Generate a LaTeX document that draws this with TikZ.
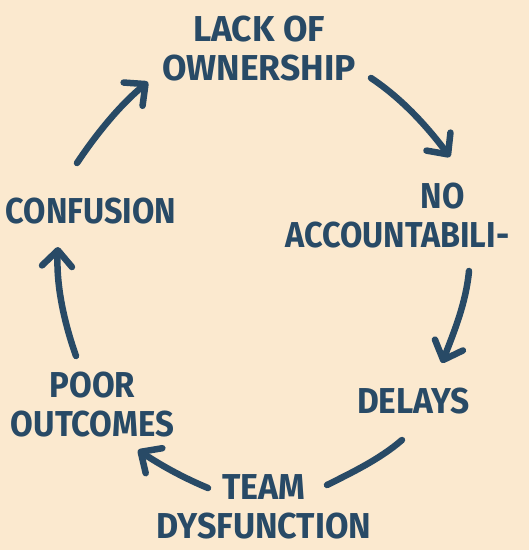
\documentclass[tikz,border=0pt]{standalone}
\usepackage{fontspec}
\setmainfont{Fira Sans}[UprightFont=* Bold]
\usetikzlibrary{arrows.meta}
\definecolor{bgc}{HTML}{FBE9CF}
\definecolor{ink}{HTML}{284A66}
\tikzset{
  lbl/.style={text=ink, inner sep=0pt, align=center, font=\fontsize{36}{39}\selectfont\addfontfeatures{FakeStretch=#1}},
  cyc/.style={draw=ink, line width=6.5pt, line cap=round, line join=round},
  cycarrow/.style={cyc, -{Straight Barb[length=16pt, width=30pt, line width=6.5pt, line cap=round, line join=round]}}
}
\begin{document}
\begin{tikzpicture}[x=1pt, y=-1pt]
\fill[bgc] (0,0) rectangle (529,550);
\useasboundingbox (0,0) rectangle (529,550);
\node[lbl=0.985] (lack) at (259,49) {LACK OF\\OWNERSHIP};
\node[lbl=0.90] (noacc) at (397.5,215.5) {\hspace*{90pt}NO\\ACCOUNTABILI-};
\node[lbl=0.93] (delays) at (413.5,401) {DELAYS};
\node[lbl=0.945] (team) at (264,506.5) {TEAM\\DYSFUNCTION};
\node[lbl=0.915] (poor) at (92.5,404.5) {POOR\\OUTCOMES};
\node[lbl=0.90] (conf) at (91,211) {CONFUSION};
\coordinate (a1s) at (77,163);  \coordinate (a1e) at (148,82);
\coordinate (a2s) at (371,78);  \coordinate (a2e) at (450,157);
\coordinate (a3s) at (469,271); \coordinate (a3e) at (442,363);
\coordinate (a4s) at (402,440); \coordinate (a4e) at (327,485);
\coordinate (a5s) at (208,488); \coordinate (a5e) at (138,450);
\coordinate (a6s) at (76,356);  \coordinate (a6e) at (58,247);
\draw[cycarrow] (a1s) .. controls (97,133) and (121,104) .. (a1e);
\draw[cycarrow] (a2s) .. controls (401,98) and (426,125) .. (a2e);
\draw[cycarrow] (a3s) .. controls (466,303) and (454,332) .. (a3e);
\draw[cyc] (a4s) .. controls (380,459) and (353,472) .. (a4e);
\draw[cycarrow] (a5s) .. controls (184,478) and (162,466) .. (a5e);
\draw[cycarrow] (a6s) .. controls (64,322) and (56,285) .. (a6e);
\end{tikzpicture}
\end{document}
